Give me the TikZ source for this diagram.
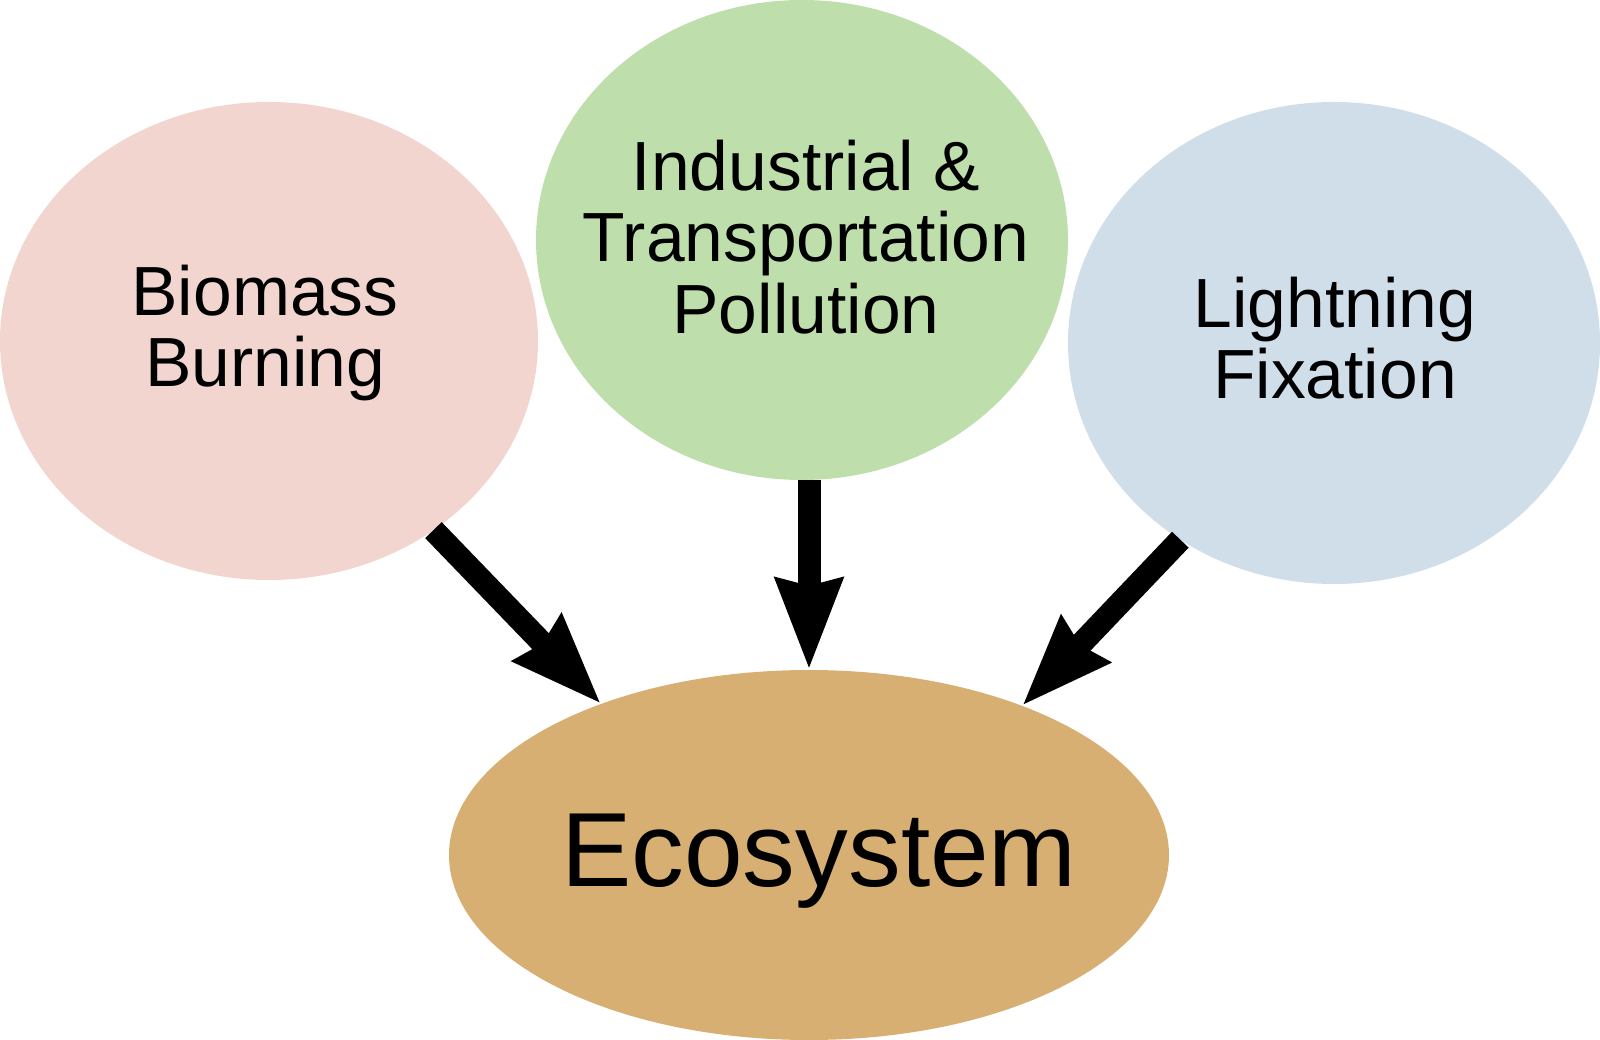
\documentclass[tikz,border=0pt]{standalone}
\usepackage{fontspec}
\setmainfont{Liberation Sans}
\usepackage{tikz}
\usetikzlibrary{positioning,shapes.geometric,arrows.meta}
\definecolor{biopink}{RGB}{242,213,207}
\definecolor{indgreen}{RGB}{190,222,172}
\definecolor{ligblue}{RGB}{208,222,234}
\definecolor{ecotan}{RGB}{216,175,115}

\begin{document}
\begin{tikzpicture}[
		src/.style={ellipse,inner sep=0pt,outer sep=0pt,minimum width=5.32cm,minimum height=4.8cm},
		lbl/.style={align=center,font=\fontsize{19.8}{20.4}\selectfont},
		flow/.style={-{Stealth[length=9mm,width=6.4mm,inset=0.6mm]},line width=2.3mm}]
		\useasboundingbox (0,0) rectangle (16,-10.4);
		\node[src,fill=biopink,minimum width=5.38cm,minimum height=4.78cm] (bio) at (2.69,-3.41) {};
		\node[src,fill=indgreen] (ind) at (8.02,-2.40) {};
		\node[src,fill=ligblue,minimum height=4.82cm] (lig) at (13.34,-3.43) {};
		\node[ellipse,inner sep=0pt,outer sep=0pt,minimum width=7.2cm,minimum height=3.7cm,fill=ecotan] (eco) at (8.09,-8.55) {};
		\node[lbl,shift={(-0.04,0.08)}] (biotxt) at (bio) {Biomass\\Burning};
		\node[lbl,shift={(0.04,0.03)}] (indtxt) at (ind) {Industrial \&\\Transportation\\Pollution};
		\node[lbl,shift={(0.01,0.05)}] (ligtxt) at (lig) {Lightning\\Fixation};
		\node[font=\fontsize{30}{31}\selectfont,shift={(0.10,-0.06)}] (ecotxt) at (eco) {Ecosystem};
		
		\draw[flow] (bio.-49) -- (eco.144.7);
		\draw[flow] (eco.north |- ind.south) -- (eco.north);
		\draw[flow] (lig.-128.3) -- (eco.35.3);
\end{tikzpicture}
\end{document}
